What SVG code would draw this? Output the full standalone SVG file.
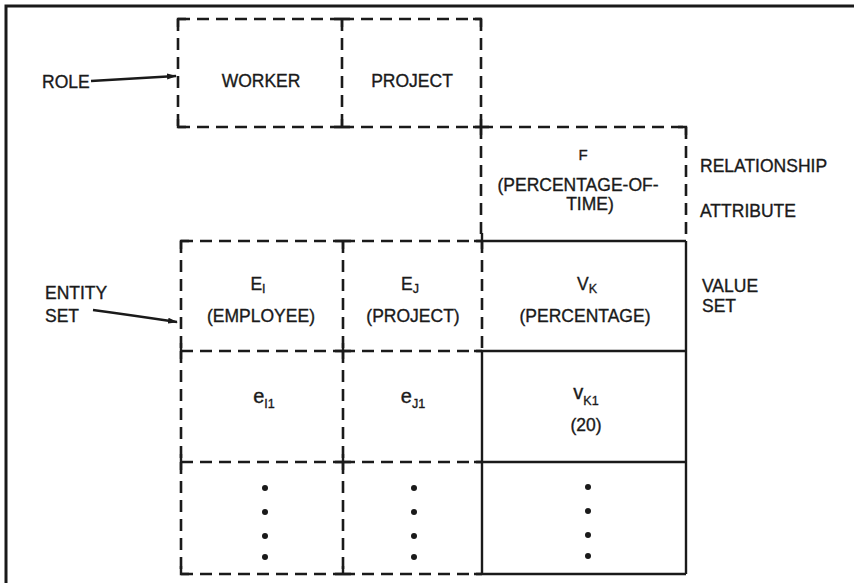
<svg xmlns="http://www.w3.org/2000/svg" width="854" height="583" viewBox="0 0 854 583">
<defs>
<style>
text{font-family:"Liberation Sans",Arial,sans-serif;font-size:17.5px;fill:#1a1a1a;stroke:#1a1a1a;stroke-width:0.35}
.c{text-anchor:middle}
.sub{font-size:12.5px}
.lc{font-size:20px}
.d{stroke:#1a1a1a;stroke-width:2.6;stroke-dasharray:12 7;fill:none}
.s{stroke:#1a1a1a;stroke-width:2.4;fill:none}
.cell{fill:none;stroke:none}
.dot{fill:#1a1a1a}
</style>
<marker id="ah" markerWidth="10" markerHeight="8" refX="9" refY="4" orient="auto" markerUnits="userSpaceOnUse">
<path d="M0,1 L10,4 L0,7 Z" fill="#1a1a1a"/>
</marker>
</defs>
<rect x="0" y="0" width="854" height="583" fill="#fff"/>
<g id="frame" class="s">
<path d="M6,583 V6 H854" stroke-width="3"/>
</g>
<g id="grid">
<path class="d" d="M178,19 H342 M342,19 H481 M178,19 V127 M342,19 V127 M481,19 V127 M178,127 H342 M342,127 H481"/>
<path class="d" d="M481,127 H686 M686,127 V241 M481,127 V241"/>
<path class="d" d="M181,241 H343 M343,241 H482 M181,241 V351 M343,241 V351 M482,241 V351 M181,351 H343 M343,351 H482 M181,351 V462 M343,351 V462 M181,462 H343 M343,462 H482 M181,462 V574 M343,462 V574 M181,574 H343 M343,574 H482"/>
<path class="s" d="M482,241 H686 M482,351 H686 M482,462 H686 M482,574 H686 M686,241 V574 M482,351 V574"/>
<path class="s" d="M178,27 V19 H186 M334,19 H350 M342,19 V27 M481,27 V19 H473 M178,119 V127 H186 M342,119 V127 M334,127 H350 M473,127 H489 M481,119 V135 M678,127 H686 V135 M181,249 V241 H189 M343,249 V241 M335,241 H351 M474,241 H482 M482,233 V249 M181,343 V359 M335,351 H351 M343,343 V359 M474,351 H482 M181,454 V470 M335,462 H351 M343,454 V470 M474,462 H482 M181,566 V574 H189 M335,574 H351 M343,566 V574 M474,574 H482"/>
</g>
<g id="connectors">
<path class="s" stroke-width="1.8" d="M91,81 L176,76" marker-end="url(#ah)"/>
<path class="s" stroke-width="1.8" d="M93,310 Q130,315 177,322" marker-end="url(#ah)"/>
</g>
<g id="label-role"><text x="42" y="88">ROLE</text></g>
<g id="label-entity-set"><text x="45" y="299">ENTITY</text><text x="45" y="322">SET</text></g>
<g id="label-relationship-attribute"><text x="700" y="172">RELATIONSHIP</text><text x="700" y="217">ATTRIBUTE</text></g>
<g id="label-value-set"><text x="702" y="292">VALUE</text><text x="702" y="312">SET</text></g>
<g id="role-worker"><rect class="cell" x="178" y="19" width="164" height="108"/><text class="c" x="261" y="87">WORKER</text></g>
<g id="role-project"><rect class="cell" x="342" y="19" width="139" height="108"/><text class="c" x="412" y="87">PROJECT</text></g>
<g id="relationship-f"><rect class="cell" x="481" y="127" width="205" height="114"/><text class="c" x="583" y="160" style="font-size:15px">F</text><text class="c" x="578" y="191">(PERCENTAGE-OF-</text><text class="c" x="590" y="210">TIME)</text></g>
<g id="entity-set-ei"><rect class="cell" x="181" y="241" width="162" height="110"/><text class="c" x="258" y="290">E<tspan class="sub" dy="3">I</tspan></text><text class="c" x="261" y="322">(EMPLOYEE)</text></g>
<g id="entity-set-ej"><rect class="cell" x="343" y="241" width="139" height="110"/><text class="c" x="410" y="290">E<tspan class="sub" dy="3">J</tspan></text><text class="c" x="413" y="322">(PROJECT)</text></g>
<g id="value-set-vk"><rect class="cell" x="482" y="241" width="204" height="110"/><text class="c" x="587" y="290">V<tspan class="sub" dy="3">K</tspan></text><text class="c" x="585" y="322">(PERCENTAGE)</text></g>
<g id="entity-ei1"><rect class="cell" x="181" y="351" width="162" height="111"/><text class="c lc" x="264" y="403">e<tspan class="sub" dy="5">I1</tspan></text></g>
<g id="entity-ej1"><rect class="cell" x="343" y="351" width="139" height="111"/><text class="c lc" x="413" y="403">e<tspan class="sub" dy="5">J1</tspan></text></g>
<g id="value-vk1"><rect class="cell" x="482" y="351" width="204" height="111"/><text class="c lc" x="586" y="399">v<tspan class="sub" dy="6">K1</tspan></text><text class="c" x="586" y="431">(20)</text></g>
<g id="entity-i-more"><rect class="cell" x="181" y="462" width="162" height="112"/><circle class="dot" cx="265" cy="488" r="3"/><circle class="dot" cx="265" cy="512" r="3"/><circle class="dot" cx="265" cy="536" r="3"/><circle class="dot" cx="265" cy="557" r="3"/></g>
<g id="entity-j-more"><rect class="cell" x="343" y="462" width="139" height="112"/><circle class="dot" cx="414" cy="488" r="3"/><circle class="dot" cx="414" cy="512" r="3"/><circle class="dot" cx="414" cy="536" r="3"/><circle class="dot" cx="414" cy="557" r="3"/></g>
<g id="value-more"><rect class="cell" x="482" y="462" width="204" height="112"/><circle class="dot" cx="588" cy="487" r="3"/><circle class="dot" cx="588" cy="511" r="3"/><circle class="dot" cx="588" cy="535" r="3"/><circle class="dot" cx="588" cy="556" r="3"/></g>
</svg>
